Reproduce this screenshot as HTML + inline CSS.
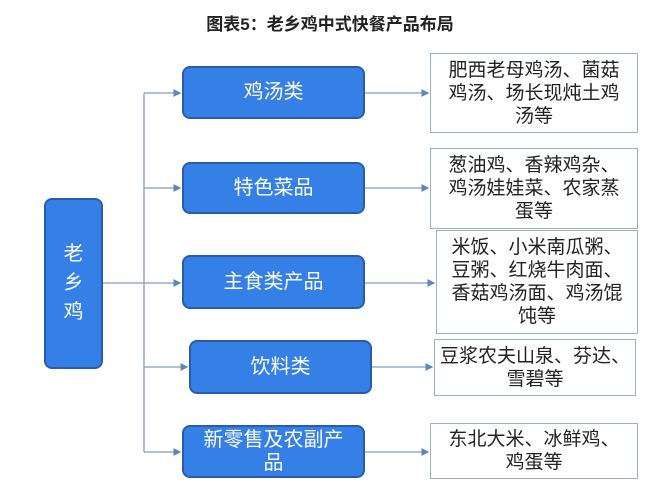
<!DOCTYPE html>
<html><head><meta charset="utf-8"><style>
body{margin:0;width:660px;height:494px;background:#fff;position:relative;overflow:hidden;font-family:"Liberation Sans","Noto Sans CJK SC",sans-serif}
.t{position:absolute;left:0;width:660px;top:10px;text-align:center;font-size:17px;font-weight:bold;color:#222}
.b{position:absolute;background:#3580e6;border:2px solid #2a5caa;border-radius:8px;color:#fff;font-size:20px;display:flex;align-items:center;justify-content:center;text-align:center;line-height:23px;box-sizing:border-box}
.r{position:absolute;border:1.5px solid #9fb0c4;color:#222;font-size:19px;line-height:23px;display:flex;align-items:center;justify-content:center;text-align:center;box-sizing:border-box;background:#fff}
svg{position:absolute;left:0;top:0}
</style></head><body>
<div class="t">图表5：老乡鸡中式快餐产品布局</div>
<svg width="660" height="494"><defs><marker id="a" markerWidth="6" markerHeight="6" refX="5" refY="3" orient="auto"><path d="M0,0L6,3L0,6z" fill="#5b86c0"/></marker></defs>
<g stroke="#7c9dc8" stroke-width="1.3" fill="none">
<path d="M144,93V452"/><path d="M103,283H144"/>
<path d="M144,93H180" marker-end="url(#a)"/><path d="M144,188H180" marker-end="url(#a)"/><path d="M144,283H180" marker-end="url(#a)"/><path d="M144,367H187" marker-end="url(#a)"/><path d="M144,452H180" marker-end="url(#a)"/>
<path d="M365,93H428" marker-end="url(#a)"/><path d="M365,188H428" marker-end="url(#a)"/><path d="M365,283H434" marker-end="url(#a)"/><path d="M372,367H432" marker-end="url(#a)"/><path d="M365,452H428" marker-end="url(#a)"/>
</g></svg>
<div class="b" style="left:44px;top:198px;width:59px;height:171px;line-height:29px">老<br>乡<br>鸡</div>
<div class="b" style="left:182px;top:66px;width:183px;height:53px">鸡汤类</div>
<div class="b" style="left:182px;top:162px;width:183px;height:52px">特色菜品</div>
<div class="b" style="left:182px;top:255px;width:183px;height:54px">主食类产品</div>
<div class="b" style="left:189px;top:340px;width:183px;height:54px">饮料类</div>
<div class="b" style="left:182px;top:425px;width:183px;height:53px">新零售及农副产<br>品</div>
<div class="r" style="left:430px;top:53px;width:208px;height:80px">肥西老母鸡汤、菌菇<br>鸡汤、场长现炖土鸡<br>汤等</div>
<div class="r" style="left:430px;top:148px;width:208px;height:81px">葱油鸡、香辣鸡杂、<br>鸡汤娃娃菜、农家蒸<br>蛋等</div>
<div class="r" style="left:436px;top:230px;width:202px;height:104px">米饭、小米南瓜粥、<br>豆粥、红烧牛肉面、<br>香菇鸡汤面、鸡汤馄<br>饨等</div>
<div class="r" style="left:434px;top:339px;width:202px;height:57px">豆浆农夫山泉、芬达、<br>雪碧等</div>
<div class="r" style="left:430px;top:423px;width:208px;height:56px">东北大米、冰鲜鸡、<br>鸡蛋等</div>
</body></html>
